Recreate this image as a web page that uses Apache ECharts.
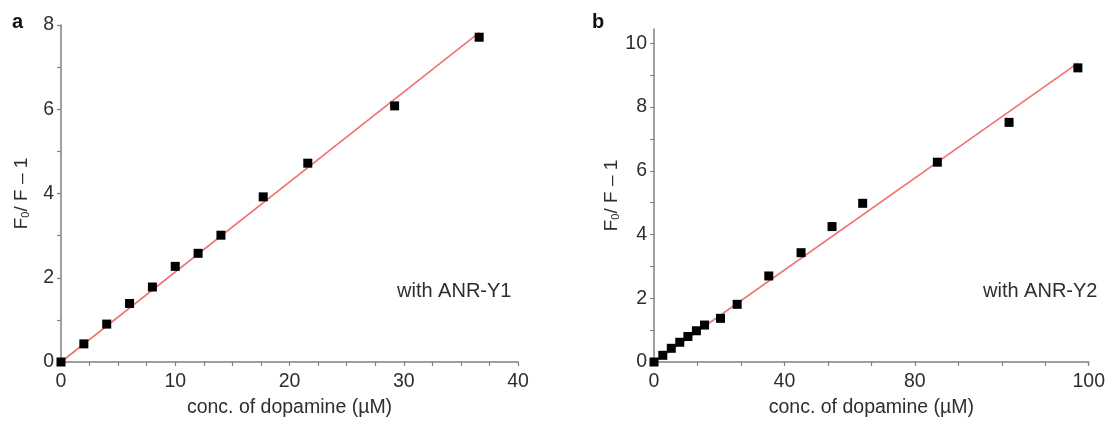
<!DOCTYPE html>
<html>
<head>
<meta charset="utf-8">
<script src="https://cdn.jsdelivr.net/npm/echarts@6/dist/echarts.min.js"></script>
<style>
html,body{margin:0;padding:0;background:#fff;}
#chart{width:1108px;height:423px;}
</style>
</head>
<body>
<div id="chart"></div>
<script>
// ---- Data ----
const concA = [0, 2, 4, 6, 8, 10, 12, 14, 17.7, 21.6, 29.2, 36.6];
const ratioA = [0, 0.43, 0.90, 1.39, 1.78, 2.27, 2.58, 3.01, 3.92, 4.72, 6.08, 7.71];
const fitConcA = [0, 36.6];
const fitRatioA = [0, 7.82];

const concB = [0, 2.7, 5.3, 7.9, 10.4, 13.0, 15.5, 20.4, 25.5, 35.2, 45.1, 54.6, 64.0, 86.9, 108.9, 130.0];
const ratioB = [0, 0.21, 0.43, 0.62, 0.80, 0.98, 1.16, 1.37, 1.81, 2.70, 3.43, 4.25, 4.98, 6.27, 7.52, 9.23];
const fitConcB = [0, 130.0];
const fitRatioB = [0, 9.38];

// tick labels
const xTickValsA = [0, 10, 20, 30, 40];
const xTickLabelsA = ['0', '10', '20', '30', '40'];
const yTickValsA = [0, 2, 4, 6, 8];
const yTickLabelsA = ['0', '2', '4', '6', '8'];
const xTickValsB = [0, 40, 80, 400 / 3];
const xTickLabelsB = ['0', '40', '80', '100'];
const yTickValsB = [0, 2, 4, 6, 8, 10];
const yTickLabelsB = ['0', '2', '4', '6', '8', '10'];

const xTitle = 'conc. of dopamine (µM)';
const noteA = 'with ANR-Y1';
const noteB = 'with ANR-Y2';

// ---- helpers ----
const zip = (xs, ys) => xs.map((x, i) => [x, ys[i]]);
const lookup = (vals, labels) => v => {
  for (let i = 0; i < vals.length; i++) if (Math.abs(vals[i] - v) < 1e-6) return labels[i];
  return '';
};
const FONT = 'Liberation Sans, Arial, Helvetica, sans-serif';
const TXT = '#2e2e2e';
const AX = '#808080';

function xAxisCfg(gi, min, max, interval, vals, labels) {
  return {
    type: 'value', gridIndex: gi, min, max, interval,
    name: xTitle, nameLocation: 'middle', nameGap: 36,
    nameTextStyle: {fontFamily: FONT, fontSize: 19.5, color: TXT},
    axisLine: {show: true, onZero: false, lineStyle: {color: AX, width: 1.5}},
    axisTick: {show: true, inside: false, length: 4, lineStyle: {color: AX, width: 1.2}},
    axisLabel: {customValues: vals, formatter: lookup(vals, labels), margin: 10,
      fontFamily: FONT, fontSize: 19.5, color: TXT},
    splitLine: {show: false}
  };
}
function yAxisCfg(gi, min, max, tickVals, vals, labels, gap) {
  return {
    type: 'value', gridIndex: gi, min, max, interval: 1,
    name: '{a|F}{s|0}{a|/ F – 1}', nameLocation: 'middle', nameGap: gap,
    nameTextStyle: {rich: {
      a: {fontFamily: FONT, fontSize: 19, color: TXT},
      s: {fontFamily: FONT, fontSize: 11, color: TXT, verticalAlign: 'bottom', padding: [8, 0, 0, 0]}
    }},
    axisLine: {show: true, onZero: false, lineStyle: {color: AX, width: 1.5}},
    axisTick: {show: true, inside: false, length: 4, customValues: tickVals, lineStyle: {color: AX, width: 1.2}},
    axisLabel: {customValues: vals, formatter: lookup(vals, labels), margin: 7,
      fontFamily: FONT, fontSize: 19.5, color: TXT},
    splitLine: {show: false}
  };
}

const chart = echarts.init(document.getElementById('chart'), null, {renderer: 'canvas'});
chart.setOption({
  animation: false,
  backgroundColor: '#ffffff',
  grid: [
    {left: 61, top: 25, width: 457, height: 340},
    {left: 654, top: 29, width: 437, height: 337.5}
  ],
  xAxis: [
    xAxisCfg(0, 0, 40, 2.5, xTickValsA, xTickLabelsA),
    xAxisCfg(1, 0, 400 / 3, 40 / 3, xTickValsB, xTickLabelsB)
  ],
  yAxis: [
    yAxisCfg(0, 0, 8, [0,1,2,3,4,5,6,7,8], yTickValsA, yTickLabelsA, 30),
    yAxisCfg(1, 0, 10.45, [0,1,2,3,4,5,6,7,8,9,10], yTickValsB, yTickLabelsB, 30)
  ],
  series: [
    {type: 'line', xAxisIndex: 0, yAxisIndex: 0, data: zip(fitConcA, fitRatioA),
      showSymbol: false, lineStyle: {color: '#f07373', width: 1.6}, z: 2},
    {type: 'scatter', xAxisIndex: 0, yAxisIndex: 0, data: zip(concA, ratioA),
      symbol: 'rect', symbolSize: 9, itemStyle: {color: '#000', opacity: 1}, z: 3},
    {type: 'line', xAxisIndex: 1, yAxisIndex: 1, data: zip(fitConcB, fitRatioB),
      showSymbol: false, lineStyle: {color: '#f07373', width: 1.6}, z: 2},
    {type: 'scatter', xAxisIndex: 1, yAxisIndex: 1, data: zip(concB, ratioB),
      symbol: 'rect', symbolSize: 9, itemStyle: {color: '#000', opacity: 1}, z: 3}
  ],
  graphic: [
    {type: 'text', left: 12, top: 12, style: {text: 'a', font: 'bold 20px ' + FONT, fill: '#111'}},
    {type: 'text', left: 592, top: 12, style: {text: 'b', font: 'bold 20px ' + FONT, fill: '#111'}},
    {type: 'text', left: 397, top: 281, style: {text: noteA, font: '20px ' + FONT, fill: TXT}},
    {type: 'text', left: 983, top: 281, style: {text: noteB, font: '20px ' + FONT, fill: TXT}}
  ]
});
</script>
</body>
</html>
